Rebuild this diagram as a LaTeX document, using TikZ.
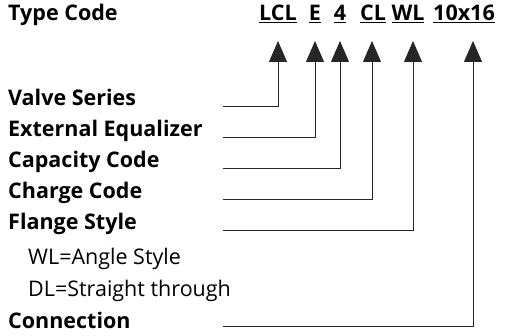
\documentclass[tikz,border=0pt]{standalone}
\usepackage{fontspec}
\setmainfont{Open Sans}
\usetikzlibrary{arrows.meta}
\begin{document}
\begin{tikzpicture}[x=1pt,y=-1pt,
  lbl/.style={anchor=base west,inner sep=0pt,font=\fontsize{21.5}{24}\selectfont\bfseries},
  sub/.style={anchor=base west,inner sep=0pt,font=\fontsize{21.5}{24}\selectfont},
  code/.style={anchor=base,inner sep=0pt,font=\fontsize{21.5}{24}\selectfont\bfseries},
  conn/.style={line width=0.9pt,draw=black!85,-{Triangle[width=18pt,length=21pt]}}]
\useasboundingbox (0,0) rectangle (508,336);
\node[lbl] (title) at (8,21) {Type Code};
\node[code] (lcl) at (278,21) {\underline{LCL}};
\node[code] (e) at (315,21) {\underline{E}};
\node[code] (four) at (340,21) {\underline{4}};
\node[code] (cl) at (373,21) {\underline{CL}};
\node[code] (wl) at (408,21) {\underline{WL}};
\node[code] (conncode) at (464,21) {\underline{10x16}};
\node[lbl] (valve) at (8,106) {Valve Series};
\node[lbl] (ext) at (8,137) {External Equalizer};
\node[lbl] (cap) at (8,168) {Capacity Code};
\node[lbl] (charge) at (8,199) {Charge Code};
\node[lbl] (flange) at (8,230) {Flange Style};
\node[sub] (wlsub) at (28,265) {WL=Angle Style};
\node[sub] (dlsub) at (28,296) {DL=Straight through};
\node[lbl] (connection) at (8,328) {Connection};
\coordinate (s1) at (223,106);
\coordinate (s2) at (223,137);
\coordinate (s3) at (223,168);
\coordinate (s4) at (223,199);
\coordinate (s5) at (223,230);
\coordinate (s6) at (223,326);
\coordinate (t1) at (278,41);
\coordinate (t2) at (315,41);
\coordinate (t3) at (340,41);
\coordinate (t4) at (372,41);
\coordinate (t5) at (413,41);
\coordinate (t6) at (473,41);
\draw[conn] (s1) -| (t1);
\draw[conn] (s2) -| (t2);
\draw[conn] (s3) -| (t3);
\draw[conn] (s4) -| (t4);
\draw[conn] (s5) -| (t5);
\draw[conn] (s6) -| (t6);
\end{tikzpicture}
\end{document}
